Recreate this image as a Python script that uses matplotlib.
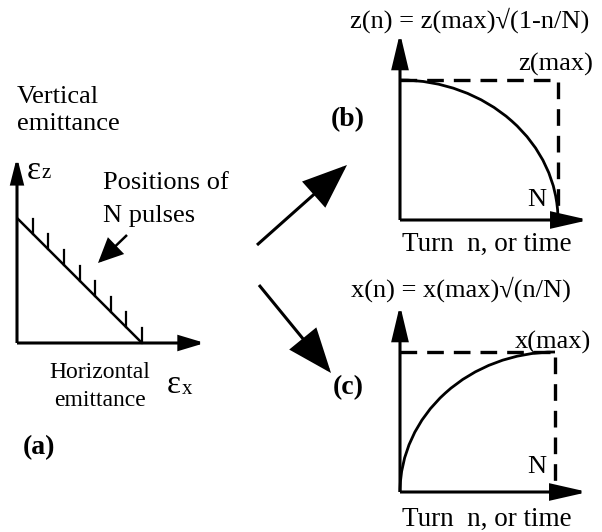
import numpy as np
import matplotlib
matplotlib.use("Agg")
import matplotlib.pyplot as plt
from matplotlib.patches import Arc, FancyArrowPatch, ArrowStyle

plt.rcParams['font.family'] = ['Liberation Serif', 'DejaVu Serif']

# diagram content
n_pulses = 8
panel_labels = ['(a)', '(b)', '(c)']
eq_b = 'z(n) = z(max)\u221a(1-n/N)'
eq_c = 'x(n) = x(max)\u221a(n/N)'
turn_label = 'Turn  n, or time'


def arrow(ax, start, end, hl, hw, lw=2.2):
    st = ArrowStyle('-|>', head_length=hl, head_width=hw)
    p = FancyArrowPatch(start, end, arrowstyle=st, mutation_scale=1,
                        lw=lw, color='black', shrinkA=0, shrinkB=0,
                        joinstyle='miter', capstyle='butt')
    ax.add_patch(p)


fig = plt.figure(figsize=(6.02, 5.32), dpi=100)
ax = fig.add_axes([0, 0, 1, 1])
ax.set_xlim(0, 602)
ax.set_ylim(532, 0)
ax.axis('off')

# ---- panel (a): emittance diagram
ox, oy = 17, 343
arrow(ax, (ox, oy), (ox, 157), 15, 3.8)
arrow(ax, (ox, oy), (205, oy), 15, 4.5)
x0, y0, x1, y1 = ox, 218, 142, oy
ax.plot([x0, x1], [y0, y1], color='black', lw=1.8, solid_capstyle='butt')
for k in range(1, n_pulses + 1):
    tx = x0 + (x1 - x0) * k / n_pulses
    ty = y0 + (y1 - y0) * k / n_pulses
    ax.plot([tx, tx], [ty, ty - 15], color='black', lw=1.6)

ax.text(ox, 97, 'Vertical', fontsize=19, va='center', ha='left')
ax.text(ox, 124, 'emittance', fontsize=19, va='center', ha='left')
ax.text(27, 171, '\u03b5', fontsize=24, va='center', ha='left')
ax.text(42, 174, 'z', fontsize=15, va='center', ha='left')
ax.text(103, 183, 'Positions of', fontsize=19, va='center', ha='left')
ax.text(103, 216, 'N pulses', fontsize=19, va='center', ha='left')
arrow(ax, (127, 235), (98, 263), 15, 7, lw=1.8)
ax.text(100, 372, 'Horizontal', fontsize=17, va='center', ha='center')
ax.text(100, 401, 'emittance', fontsize=17, va='center', ha='center')
ax.text(167, 385, '\u03b5', fontsize=24, va='center', ha='left')
ax.text(182, 389, 'x', fontsize=15, va='center', ha='left')
ax.text(23, 448, panel_labels[0], fontsize=20, fontweight='bold', va='center', ha='left')

# ---- middle arrows
arrow(ax, (257, 245), (347, 165), 28, 11)
arrow(ax, (259, 285), (331, 373), 28, 11)

# ---- panel (b): z(n) decreasing
bx, by, bN, bz = 400, 220, 558, 80
arrow(ax, (bx, by), (bx, 33), 21, 5)
arrow(ax, (bx, by), (589, by), 22, 5)
ax.plot([bx, bN, bN], [bz, bz, by], color='black', lw=2.4, dashes=(5, 3))
ax.add_patch(Arc((bx, by), 2 * (bN - bx), 2 * (by - bz), theta1=270, theta2=360,
                 color='black', lw=2))
ax.text(470, 20, eq_b, fontsize=19, va='center', ha='center')
ax.text(556, 64, 'z(max)', fontsize=19, va='center', ha='center')
ax.text(537, 200, 'N', fontsize=19, va='center', ha='center')
ax.text(348, 120, panel_labels[1], fontsize=20, fontweight='bold', va='center', ha='center')
ax.text(487, 244, turn_label, fontsize=19.5, va='center', ha='center')

# ---- panel (c): x(n) increasing
cx, cy, cN, cz = 400, 492, 555, 352
arrow(ax, (cx, cy), (cx, 305), 21, 5)
arrow(ax, (cx, cy), (588, cy), 22, 5)
ax.plot([cx, cN, cN], [cz, cz, cy], color='black', lw=2.4, dashes=(5, 3))
ax.add_patch(Arc((cN, cy), 2 * (cN - cx), 2 * (cy - cz), theta1=180, theta2=270,
                 color='black', lw=2))
ax.text(461, 289, eq_c, fontsize=19, va='center', ha='center')
ax.text(553, 342, 'x(max)', fontsize=19, va='center', ha='center')
ax.text(537, 467, 'N', fontsize=19, va='center', ha='center')
ax.text(348, 388, panel_labels[2], fontsize=20, fontweight='bold', va='center', ha='center')
ax.text(487, 519, turn_label, fontsize=19.5, va='center', ha='center')

fig.savefig('out.png', dpi=100)
